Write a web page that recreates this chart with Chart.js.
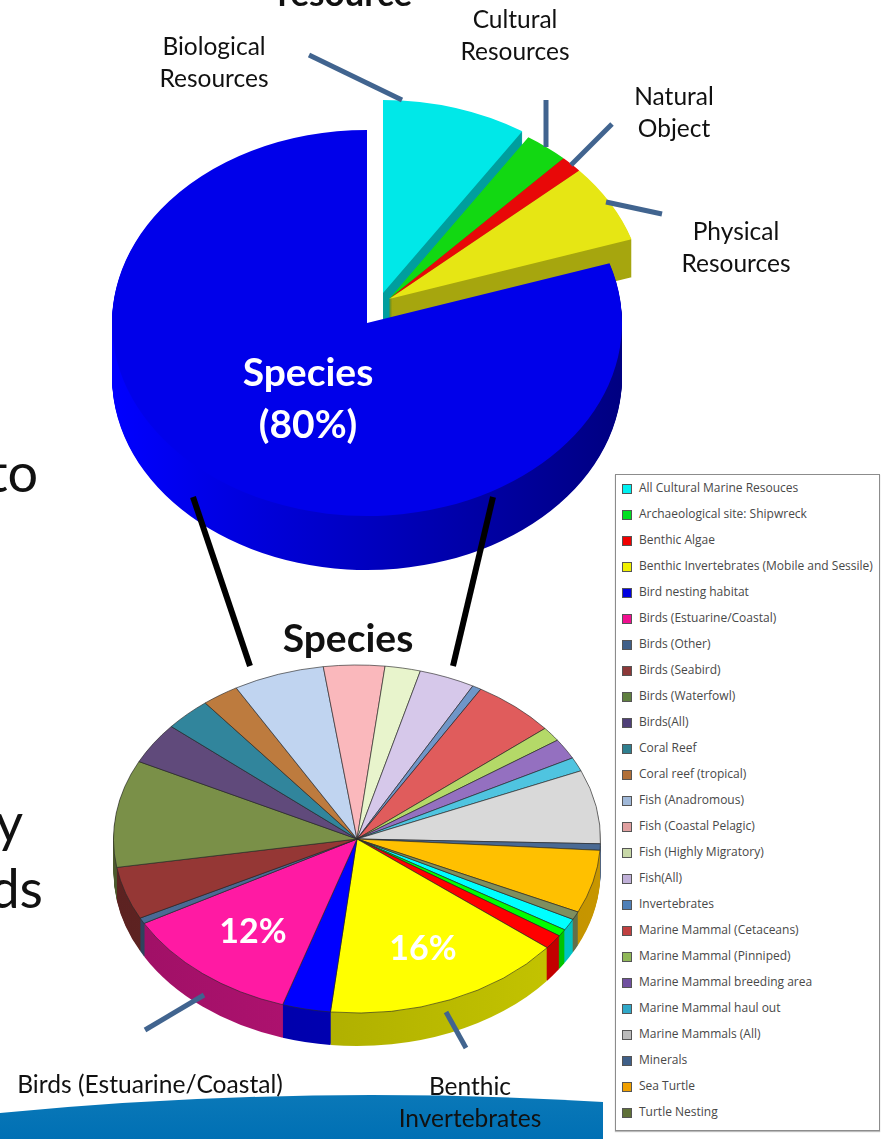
<!DOCTYPE html>
<html>
<head>
<meta charset="utf-8">
<title>Resource and species pies</title>
<script src="https://cdn.jsdelivr.net/npm/chart.js@4"></script>
<style>
  html, body { margin: 0; background: #fff; }
  #page { position: relative; width: 884px; height: 1139px; overflow: hidden; background: #fff; font-family: Lato, sans-serif; }
  canvas { position: absolute; }
  svg { position: absolute; left: 0; top: 0; }
  .txt { position: absolute; white-space: nowrap; line-height: 1; color: #111; }
  #legend { position: absolute; left: 615px; top: 474px; width: 265px; height: 657px; border: 1px solid #8c8c8c; box-shadow: 0 1px 1px #bbb; background: #fff; box-sizing: border-box; }
  .row { position: absolute; left: 0; font: 12px "Open Sans", sans-serif; color: #484848; white-space: nowrap; }
  .sw { position: absolute; left: 6px; top: 3px; width: 8px; height: 8px; border: 1px solid #555; }
  .lab { position: absolute; left: 23px; top: -2px; }
</style>
</head>
<body>
<div id="page">
  <svg width="884" height="1139" style="z-index:0">
    <defs>
      <linearGradient id="band" x1="0" y1="0" x2="0" y2="1">
        <stop offset="0" stop-color="#0a78b8"/>
        <stop offset="1" stop-color="#0070b4"/>
      </linearGradient>
    </defs>
    <path d="M0 1113 Q300 1084 603 1102 L603 1139 L0 1139 Z" fill="url(#band)"/>
  </svg>
  <canvas id="cyanPie" width="570" height="570" style="left:98px;top:8px;z-index:1"></canvas>
  <canvas id="restPie" width="570" height="570" style="left:104px;top:14px;z-index:2"></canvas>
  <canvas id="speciesPie" width="570" height="570" style="left:82px;top:38px;z-index:3"></canvas>
  <canvas id="lowerPie" width="540" height="540" style="left:87px;top:569px;z-index:3"></canvas>
  <svg width="884" height="1139" style="z-index:4">
    <g stroke="#000" stroke-width="6" fill="none">
      <line x1="193" y1="497" x2="250" y2="666"/>
      <line x1="493" y1="497" x2="453" y2="666"/>
    </g>
    <g stroke="#41648f" stroke-width="5" fill="none">
      <line x1="309" y1="55" x2="402" y2="100"/>
      <line x1="546" y1="100" x2="546" y2="147"/>
      <line x1="612" y1="124" x2="571" y2="165"/>
      <line x1="662" y1="214" x2="606" y2="202"/>
      <line x1="145" y1="1030" x2="204" y2="995"/>
      <line x1="466" y1="1048" x2="446" y2="1012"/>
    </g>
  </svg>
  <div id="legend"></div>
</div>

<script>
// top pie, share of each resource type (%)
var resourceNames = ["Biological Resources", "Cultural Resources", "Natural Object", "Physical Resources", "Species"];
var resourceValues = [9.2, 2.8, 1.4, 6.6, 80];
var resourceColors = ["#00e8e8", "#12d812", "#e80808", "#e6e614", "#0000ea"];

// lower pie, breakdown of species (%), in legend order
var speciesNames = [
  "All Cultural Marine Resouces", "Archaeological site: Shipwreck", "Benthic Algae",
  "Benthic Invertebrates (Mobile and Sessile)", "Bird nesting habitat", "Birds (Estuarine/Coastal)",
  "Birds (Other)", "Birds (Seabird)", "Birds (Waterfowl)", "Birds(All)", "Coral Reef",
  "Coral reef (tropical)", "Fish (Anadromous)", "Fish (Coastal Pelagic)", "Fish (Highly Migratory)",
  "Fish(All)", "Invertebrates", "Marine Mammal (Cetaceans)", "Marine Mammal (Pinniped)",
  "Marine Mammal breeding area", "Marine Mammal haul out", "Marine Mammals (All)", "Minerals",
  "Sea Turtle", "Turtle Nesting"
];
var speciesValues = [1.1, 0.65, 1.35, 16, 3.2, 12, 0.55, 4.9, 9.95, 3.85, 3.1, 2.45, 6.05, 4.05, 2.35, 3.7, 0.6, 5.55, 1.35, 1.9, 1.3, 6.85, 0.6, 5.85, 0.75];
var speciesColors = [
  "#00ffff", "#00ff00", "#ff0000", "#ffff00", "#0000ff", "#ff1aa3", "#4a6a94", "#953735", "#7a9048",
  "#604a7b", "#31859c", "#bd7b3e", "#c0d4f0", "#fab8bc", "#e8f4cc", "#d6c8ea", "#6f96c8", "#e05c5c",
  "#b4d968", "#9470c0", "#4fc4e0", "#d9d9d9", "#4a6a94", "#ffc000", "#7f8f5f"
];
var legendColors = [
  "#00f0f0", "#00e020", "#f00000", "#f0f000", "#0000e0", "#f01090", "#3f5f88", "#8c3838", "#5f7f3f",
  "#4f3f78", "#2f7f8f", "#b06f38", "#a0b8d8", "#e0a0a0", "#c8d8a8", "#c0b0d8", "#4f80b8", "#c04040",
  "#90b858", "#7050a0", "#30a8c8", "#bbbbbb", "#3f5f88", "#f0a000", "#5f7038"
];

// scale a #rrggbb colour
function shade(hex, f) {
  var n = parseInt(hex.slice(1), 16);
  var r = Math.min(255, Math.round((n >> 16 & 255) * f));
  var g = Math.min(255, Math.round((n >> 8 & 255) * f));
  var b = Math.min(255, Math.round((n & 255) * f));
  return "rgb(" + r + "," + g + "," + b + ")";
}

// squashes the pie into an ellipse and builds the side wall under it
var tiltPlugin = {
  id: "tilt",
  beforeDatasetsDraw: function(chart, args, opts) {
    var ctx = chart.ctx;
    var arcs = chart.getDatasetMeta(0).data;
    var cx = arcs[0].x, cy = arcs[0].y;
    var colors = chart.data.datasets[0].backgroundColor;
    var fills = colors.map(function(c) {
      if (c === "transparent") return c;
      var r = arcs[0].outerRadius;
      var g = ctx.createLinearGradient(cx - r, 0, cx + r, 0);
      g.addColorStop(0, shade(c, opts.wallLeft));
      g.addColorStop(1, shade(c, opts.wallRight));
      return g;
    });
    ctx.save();
    ctx.translate(cx, cy);
    ctx.scale(1, opts.squash);
    ctx.translate(-cx, -cy);
    for (var d = opts.depth; d >= 1; d--) {
      arcs.forEach(function(arc, i) {
        if (colors[i] === "transparent") return;
        ctx.beginPath();
        ctx.moveTo(cx, cy + d / opts.squash);
        ctx.arc(cx, cy + d / opts.squash, arc.outerRadius, arc.startAngle, arc.endAngle);
        ctx.closePath();
        ctx.fillStyle = fills[i];
        ctx.fill();
      });
    }
  },
  afterDatasetsDraw: function(chart) {
    chart.ctx.restore();
  }
};

function makePie(id, labels, values, colors, radius, rotation, borderWidth, tilt) {
  return new Chart(document.getElementById(id), {
    type: "pie",
    data: {
      labels: labels,
      datasets: [{
        data: values,
        backgroundColor: colors,
        borderColor: borderWidth ? "rgba(40,40,40,0.75)" : "transparent",
        borderWidth: borderWidth,
        clip: false
      }]
    },
    options: {
      responsive: false,
      animation: false,
      rotation: rotation,
      radius: radius,
      plugins: { legend: { display: false }, tooltip: { enabled: false }, tilt: tilt }
    },
    plugins: [tiltPlugin]
  });
}

// only show the slices in keep, the rest stay in the data to hold their angle
function onlySlices(keep) {
  return resourceColors.map(function(c, i) {
    return keep.indexOf(i) >= 0 ? c : "transparent";
  });
}

makePie("cyanPie", resourceNames, resourceValues, onlySlices([0]), 255, 0, 0, { squash: 0.757, depth: 34, wallLeft: 0.68, wallRight: 0.68 });
makePie("restPie", resourceNames, resourceValues, onlySlices([1, 2, 3]), 255, 0, 0, { squash: 0.757, depth: 38, wallLeft: 0.72, wallRight: 0.72 });
makePie("speciesPie", resourceNames, resourceValues, onlySlices([4]), 255, 0, 0, { squash: 0.757, depth: 54, wallLeft: 1.09, wallRight: 0.55 });
makePie("lowerPie", speciesNames, speciesValues, speciesColors, 243.5, 117.5, 1, { squash: 0.7146, depth: 33, wallLeft: 0.62, wallRight: 0.78 });

// html legend
var legend = document.getElementById("legend");
speciesNames.forEach(function(name, i) {
  var row = document.createElement("div");
  row.className = "row";
  row.style.top = (6 + i * 26) + "px";
  var sw = document.createElement("div");
  sw.className = "sw";
  sw.style.background = legendColors[i];
  var lab = document.createElement("div");
  lab.className = "lab";
  lab.textContent = name;
  row.appendChild(sw);
  row.appendChild(lab);
  legend.appendChild(row);
});

// text placed by its centre
function addText(str, x, y, size, opts) {
  opts = opts || {};
  var el = document.createElement("div");
  el.className = "txt";
  el.textContent = str;
  el.style.fontSize = size + "px";
  el.style.fontWeight = opts.bold ? "700" : "400";
  if (opts.color) el.style.color = opts.color;
  el.style.zIndex = 5;
  el.style.left = x + "px";
  el.style.top = y + "px";
  el.style.transform = opts.right ? "translate(-100%,-50%)" : "translate(-50%,-50%)";
  document.getElementById("page").appendChild(el);
}

addText("resource", 345, -8, 35, { bold: true });
addText("Cultural", 515, 19, 24.5);
addText("Resources", 515, 51, 24.5);
addText("Biological", 214, 46, 24.5);
addText("Resources", 214, 78, 24.5);
addText("Natural", 674, 96, 24.5);
addText("Object", 674, 128, 24.5);
addText("Physical", 736, 231, 24.5);
addText("Resources", 736, 263, 24.5);
addText("Birds (Estuarine/Coastal)", 150, 1084, 24.6);
addText("Benthic", 470, 1086, 24.5);
addText("Invertebrates", 470, 1118, 24.5);
addText("Species", 308, 371, 39, { bold: true, color: "#fff" });
addText("(" + resourceValues[4] + "%)", 308, 423, 39, { bold: true, color: "#fff" });
addText("Species", 348, 637, 39, { bold: true });
addText(speciesValues[5] + "%", 253, 930, 34, { bold: true, color: "#fff" });
addText(speciesValues[3] + "%", 423, 947, 34, { bold: true, color: "#fff" });
addText("to", 38, 472, 54, { right: true });
addText("y", 23, 822, 54, { right: true });
addText("ds", 43, 888, 54, { right: true });
</script>
</body>
</html>
